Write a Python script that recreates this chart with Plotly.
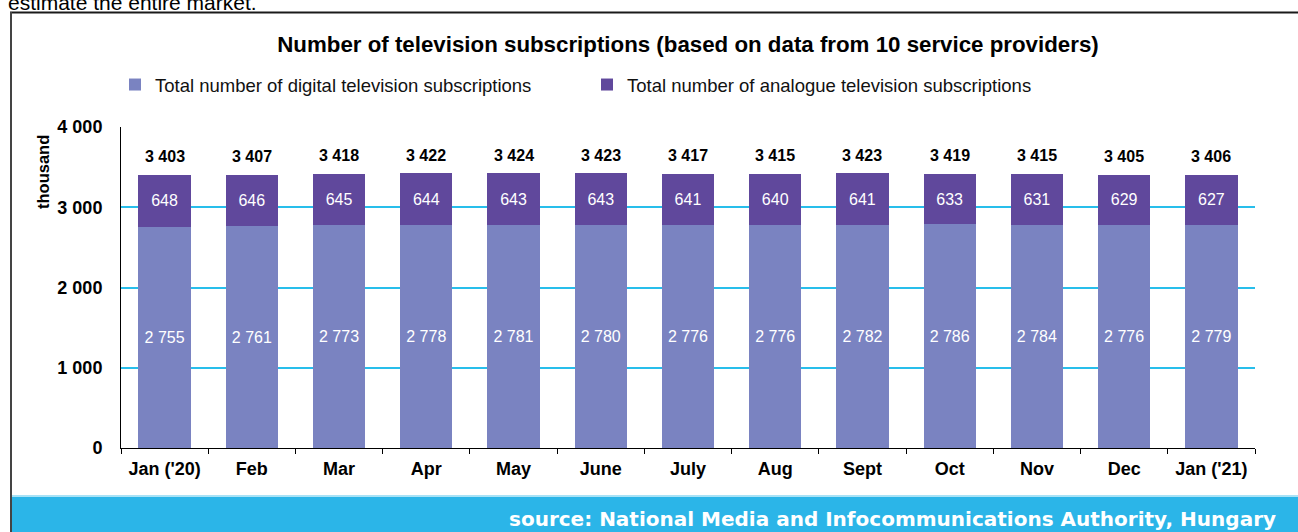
import plotly.graph_objects as go

months = ["Jan ('20)", "Feb", "Mar", "Apr", "May", "June", "July", "Aug", "Sept", "Oct", "Nov", "Dec", "Jan ('21)"]
digital = [2755, 2761, 2773, 2778, 2781, 2780, 2776, 2776, 2782, 2786, 2784, 2776, 2779]
analogue = [648, 646, 645, 644, 643, 643, 641, 640, 641, 633, 631, 629, 627]
totals = [3403, 3407, 3418, 3422, 3424, 3423, 3417, 3415, 3423, 3419, 3415, 3405, 3406]
y_ticks = [0, 1000, 2000, 3000, 4000]

def fmt(v):
    return f"{v:,}".replace(",", " ")

FONT = "Liberation Sans, Arial, sans-serif"
W, H = 1298, 532
L, R, T, B = 121, 43, 127, 84

fig = go.Figure()
fig.add_trace(go.Bar(
    x=months, y=digital, name="Total number of digital television subscriptions",
    marker=dict(color="#7A83C1", line=dict(width=0)),
    text=[fmt(v) for v in digital], textposition="inside", insidetextanchor="middle",
    textfont=dict(color="white", size=16, family=FONT), width=0.6,
))
fig.add_trace(go.Bar(
    x=months, y=analogue, name="Total number of analogue television subscriptions",
    marker=dict(color="#60489C", line=dict(width=0)),
    text=[fmt(v) for v in analogue], textposition="inside", insidetextanchor="middle",
    textfont=dict(color="white", size=16, family=FONT), width=0.6,
))

for m, t in zip(months, totals):
    fig.add_annotation(x=m, y=t, xref="x", yref="y", text=f"<b>{fmt(t)}</b>", showarrow=False,
                       yanchor="middle", yshift=18,
                       font=dict(color="black", size=16, family=FONT))

def px_x(p):
    return (p - L) / (W - L - R)

def px_y(p):
    return (H - B - p) / (H - T - B)

fig.update_layout(
    width=W, height=H, barmode="stack",
    margin=dict(l=L, r=R, t=T, b=B),
    paper_bgcolor="white", plot_bgcolor="white",
    font=dict(family=FONT, color="black"),
    title=dict(text="<b>Number of television subscriptions (based on data from 10 service providers)</b>",
               x=0.5, xref="paper", xanchor="center", y=1 - 44 / H, yanchor="middle",
               font=dict(size=22.3, family=FONT, color="black")),
    legend=dict(orientation="h", x=px_x(115), xanchor="left", y=px_y(85), yanchor="middle",
                font=dict(size=18.5, family=FONT, color="#111111"), entrywidth=427,
                bgcolor="rgba(0,0,0,0)", traceorder="normal"),
    xaxis=dict(range=[-0.5, 12.5], showline=True, linecolor="black", linewidth=1,
               ticks="outside", tickson="boundaries", ticklen=5, tickcolor="black",
               ticklabelstandoff=4,
               tickfont=dict(size=18, family=FONT, color="black"), showgrid=False,
               tickprefix="<b>", ticksuffix="</b>", fixedrange=True),
    yaxis=dict(range=[0, 4000], tickvals=y_ticks, ticktext=[f"<b>{fmt(v)}</b>" for v in y_ticks],
               showgrid=True, gridcolor="rgb(40,190,235)", gridwidth=1.5, showline=True, linecolor="black",
               linewidth=1, zeroline=False, ticks="", ticklabelstandoff=14,
               tickfont=dict(size=18, family=FONT, color="black")),
    showlegend=True,
)

# thousand label
fig.add_annotation(text="<b>thousand</b>", textangle=-90, xref="paper", yref="paper",
                   x=px_x(43), y=px_y(172), xanchor="center", yanchor="middle", showarrow=False,
                   font=dict(size=16.5, family=FONT, color="black"))

# cut-off text at top
fig.add_annotation(text="estimate the entire market.", xref="paper", yref="paper",
                   x=px_x(6), xanchor="left", y=px_y(2.5), yanchor="middle", showarrow=False,
                   font=dict(size=21, family=FONT, color="black"))

# frame lines
fig.add_shape(type="line", xref="paper", yref="paper", x0=px_x(10), x1=px_x(W), y0=px_y(12.5), y1=px_y(12.5),
              line=dict(color="#1a1a1a", width=2), layer="above")
fig.add_shape(type="line", xref="paper", yref="paper", x0=px_x(11), x1=px_x(11), y0=px_y(12), y1=px_y(H),
              line=dict(color="#444444", width=2), layer="above")

# footer band
fig.add_shape(type="rect", xref="paper", yref="paper", x0=px_x(12), x1=px_x(W), y0=px_y(495), y1=px_y(497),
              fillcolor="#A8E2F6", line=dict(width=0), layer="above")
fig.add_shape(type="rect", xref="paper", yref="paper", x0=px_x(12), x1=px_x(W), y0=px_y(497), y1=px_y(H),
              fillcolor="#2BB5E8", line=dict(width=0), layer="above")
fig.add_annotation(text="<b>source: National Media and Infocommunications Authority, Hungary</b>",
                   xref="paper", yref="paper", x=px_x(1278), xanchor="right", y=px_y(519), yanchor="middle",
                   showarrow=False, font=dict(size=20, family="DejaVu Sans, sans-serif", color="white"))

fig.write_html("out.html")
